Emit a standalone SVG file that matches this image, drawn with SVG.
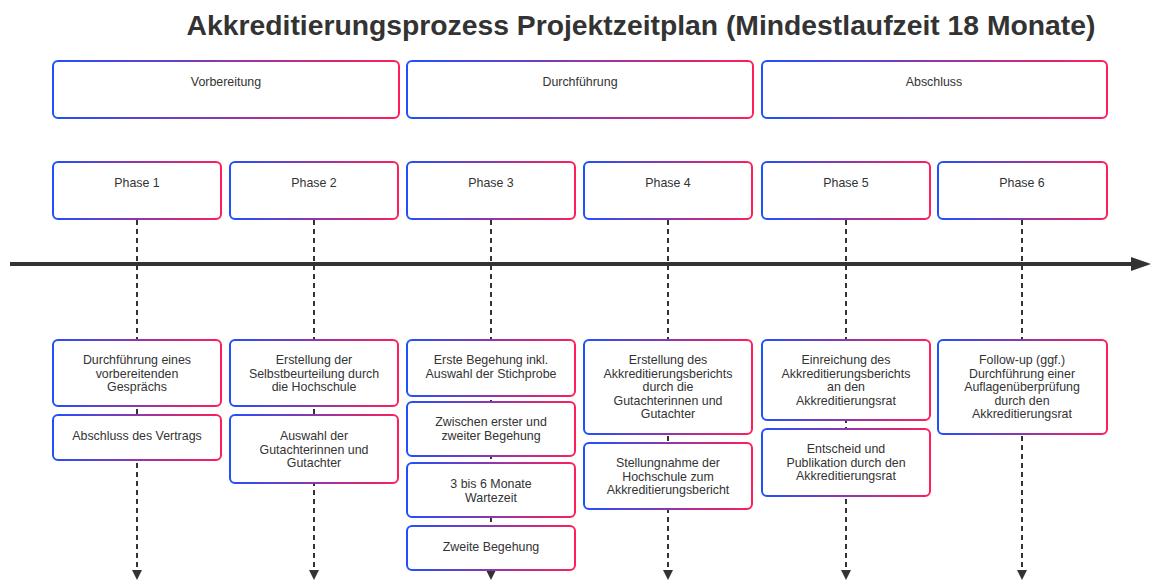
<svg xmlns="http://www.w3.org/2000/svg" width="1153" height="580" viewBox="0 0 1153 580">
<defs>
<linearGradient id="g" x1="0" y1="0" x2="1" y2="0">
<stop offset="0" stop-color="#1e50ff"/>
<stop offset="1" stop-color="#ff1e5a"/>
</linearGradient>
<marker id="ah" viewBox="0 0 10 10" refX="10" refY="5" markerWidth="10" markerHeight="10" markerUnits="userSpaceOnUse" orient="auto">
<path d="M0,0 L10,5 L0,10 z" fill="#333"/>
</marker>
<marker id="big" viewBox="0 0 20 14" refX="2" refY="7" markerWidth="20" markerHeight="14" markerUnits="userSpaceOnUse" orient="auto">
<path d="M0,0 L20,7 L0,14 z" fill="#333"/>
</marker>
</defs>
<style>
.b{fill:#fff;stroke:url(#g);stroke-width:2}
.t{font-family:"Liberation Sans",Arial,sans-serif;font-size:12.4px;fill:#333;text-anchor:middle}
.title{font-family:"Liberation Sans",Arial,sans-serif;font-size:28.3px;font-weight:bold;fill:#333;text-anchor:middle}
.d{stroke:#333;stroke-width:2;stroke-dasharray:5 4;fill:none}
</style>
<rect width="1153" height="580" fill="#fff"/>
<text class="title" x="641" y="35">Akkreditierungsprozess Projektzeitplan (Mindestlaufzeit 18 Monate)</text>

<g id="connectors">
<line x1="10" y1="264" x2="1133" y2="264" stroke="#333" stroke-width="4" marker-end="url(#big)"/>
<line class="d" x1="137" y1="220" x2="137" y2="580" marker-end="url(#ah)"/>
<line class="d" x1="314" y1="220" x2="314" y2="580" marker-end="url(#ah)"/>
<line class="d" x1="491" y1="220" x2="491" y2="580" marker-end="url(#ah)"/>
<line class="d" x1="668" y1="220" x2="668" y2="580" marker-end="url(#ah)"/>
<line class="d" x1="846" y1="220" x2="846" y2="580" marker-end="url(#ah)"/>
<line class="d" x1="1022" y1="220" x2="1022" y2="580" marker-end="url(#ah)"/>
</g>

<g id="sec-vorbereitung"><rect class="b" x="53" y="61" width="346" height="57" rx="5"/><text class="t" x="226" y="86">Vorbereitung</text></g>
<g id="sec-durchfuehrung"><rect class="b" x="407" y="61" width="346" height="57" rx="5"/><text class="t" x="580" y="86">Durchführung</text></g>
<g id="sec-abschluss"><rect class="b" x="762" y="61" width="345" height="57" rx="5"/><text class="t" x="934" y="86">Abschluss</text></g>

<g id="phase1"><rect class="b" x="53" y="162" width="168" height="57" rx="5"/><text class="t" x="137" y="187">Phase 1</text></g>
<g id="phase2"><rect class="b" x="230" y="162" width="168" height="57" rx="5"/><text class="t" x="314" y="187">Phase 2</text></g>
<g id="phase3"><rect class="b" x="407" y="162" width="168" height="57" rx="5"/><text class="t" x="491" y="187">Phase 3</text></g>
<g id="phase4"><rect class="b" x="584" y="162" width="168" height="57" rx="5"/><text class="t" x="668" y="187">Phase 4</text></g>
<g id="phase5"><rect class="b" x="762" y="162" width="168" height="57" rx="5"/><text class="t" x="846" y="187">Phase 5</text></g>
<g id="phase6"><rect class="b" x="938" y="162" width="169" height="57" rx="5"/><text class="t" x="1022" y="187">Phase 6</text></g>

<g id="e1a"><rect class="b" x="53" y="340" width="168" height="66" rx="5"/><text class="t" x="137" y="364">Durchführung eines<tspan x="137" dy="13.5">vorbereitenden</tspan><tspan x="137" dy="13.5">Gesprächs</tspan></text></g>
<g id="e1b"><rect class="b" x="53" y="415" width="168" height="45" rx="5"/><text class="t" x="137" y="440">Abschluss des Vertrags</text></g>

<g id="e2a"><rect class="b" x="230" y="340" width="168" height="66" rx="5"/><text class="t" x="314" y="364">Erstellung der<tspan x="314" dy="13.5">Selbstbeurteilung durch</tspan><tspan x="314" dy="13.5">die Hochschule</tspan></text></g>
<g id="e2b"><rect class="b" x="230" y="415" width="168" height="68" rx="5"/><text class="t" x="314" y="440">Auswahl der<tspan x="314" dy="13.5">Gutachterinnen und</tspan><tspan x="314" dy="13.5">Gutachter</tspan></text></g>

<g id="e3a"><rect class="b" x="407" y="340" width="168" height="56" rx="5"/><text class="t" x="491" y="364">Erste Begehung inkl.<tspan x="491" dy="13.5">Auswahl der Stichprobe</tspan></text></g>
<g id="e3b"><rect class="b" x="407" y="402" width="168" height="54" rx="5"/><text class="t" x="491" y="426">Zwischen erster und<tspan x="491" dy="13.5">zweiter Begehung</tspan></text></g>
<g id="e3c"><rect class="b" x="407" y="463" width="168" height="54" rx="5"/><text class="t" x="491" y="488">3 bis 6 Monate<tspan x="491" dy="13.5">Wartezeit</tspan></text></g>
<g id="e3d"><rect class="b" x="407" y="526" width="168" height="44" rx="5"/><text class="t" x="491" y="551">Zweite Begehung</text></g>

<g id="e4a"><rect class="b" x="584" y="340" width="168" height="94" rx="5"/><text class="t" x="668" y="364">Erstellung des<tspan x="668" dy="13.5">Akkreditierungsberichts</tspan><tspan x="668" dy="13.5">durch die</tspan><tspan x="668" dy="13.5">Gutachterinnen und</tspan><tspan x="668" dy="13.5">Gutachter</tspan></text></g>
<g id="e4b"><rect class="b" x="584" y="443" width="168" height="66" rx="5"/><text class="t" x="668" y="467">Stellungnahme der<tspan x="668" dy="13.5">Hochschule zum</tspan><tspan x="668" dy="13.5">Akkreditierungsbericht</tspan></text></g>

<g id="e5a"><rect class="b" x="762" y="340" width="168" height="80" rx="5"/><text class="t" x="846" y="364">Einreichung des<tspan x="846" dy="13.5">Akkreditierungsberichts</tspan><tspan x="846" dy="13.5">an den</tspan><tspan x="846" dy="13.5">Akkreditierungsrat</tspan></text></g>
<g id="e5b"><rect class="b" x="762" y="429" width="168" height="67" rx="5"/><text class="t" x="846" y="453">Entscheid und<tspan x="846" dy="13.5">Publikation durch den</tspan><tspan x="846" dy="13.5">Akkreditierungsrat</tspan></text></g>

<g id="e6a"><rect class="b" x="938" y="340" width="169" height="94" rx="5"/><text class="t" x="1022" y="364">Follow-up (ggf.)<tspan x="1022" dy="13.5">Durchführung einer</tspan><tspan x="1022" dy="13.5">Auflagenüberprüfung</tspan><tspan x="1022" dy="13.5">durch den</tspan><tspan x="1022" dy="13.5">Akkreditierungsrat</tspan></text></g>
</svg>
